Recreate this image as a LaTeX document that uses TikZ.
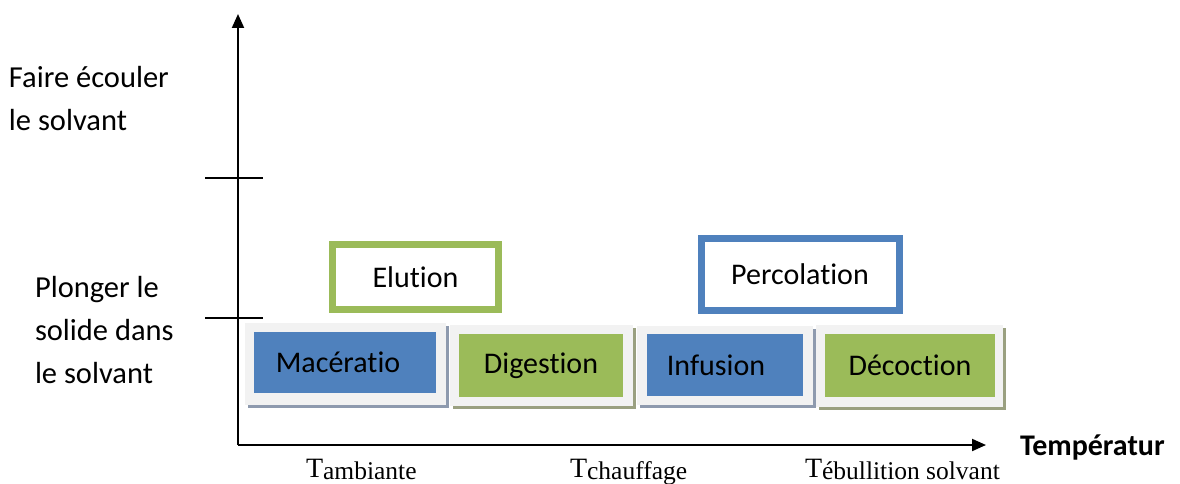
\documentclass[tikz,border=0pt]{standalone}
\usepackage{fontspec}
\setmainfont{Carlito}[Ligatures=NoCommon]
\newfontfamily\timesfont{Liberation Serif}
\usetikzlibrary{arrows.meta,shadows}
\definecolor{boxblue}{HTML}{4F81BD}
\definecolor{boxgreen}{HTML}{9BBB59}
\definecolor{panelgray}{HTML}{F2F2F2}
\definecolor{shadeblue}{HTML}{8E9AAE}
\definecolor{shadegreen}{HTML}{9AA080}

\begin{document}
\begin{tikzpicture}[
    x=1pt, y=-1pt,
    every node/.style={inner sep=0pt, outer sep=0pt},
    panel/.style={rectangle, fill=panelgray, drop shadow={shadow xshift=2.5pt, shadow yshift=-3pt, opacity=1, fill=#1}},
    method/.style={rectangle, fill=#1, font=\fontsize{30}{36}\selectfont},
    framebox/.style={rectangle, draw=#1, line width=7pt, fill=white, font=\fontsize{30}{36}\selectfont},
    sidetext/.style={align=left, anchor=base west, font=\fontsize{30.5}{43}\selectfont},
    temptext/.style={anchor=base west, font=\timesfont\fontsize{28}{30}\selectfont},
    tickmark/.style={line width=2pt},
    axisline/.style={line width=2pt, -{Triangle[length=14pt, width=12pt]}}
]
\useasboundingbox (0, 0) rectangle (1180, 484);

% Axes
\coordinate (origin) at (238, 445);
\coordinate (ytip) at (238, 14);
\coordinate (xtip) at (986, 445);
\draw[axisline] (origin) -- (ytip);
\draw[axisline] (origin) -- (xtip);

% Ticks on the vertical axis
\coordinate (t1l) at (205, 178);
\coordinate (t1r) at (263, 178);
\coordinate (t2l) at (205, 318);
\coordinate (t2r) at (263, 318);
\draw[tickmark] (t1l) -- (t1r);
\draw[tickmark] (t2l) -- (t2r);

% Side labels (base = last line)
\node[sidetext] at (9, 131) (ecouler) {Faire écouler\\le solvant};
\node[sidetext] at (35, 383) (plonger) {Plonger le\\solide dans\\le solvant};

% Panels
\node[panel=shadeblue, minimum width=201pt, minimum height=82pt] at (345.5, 364) (p1) {};
\node[panel=shadegreen, minimum width=183pt, minimum height=81pt] at (541.5, 365.5) (p2) {};
\node[panel=shadeblue, minimum width=176pt, minimum height=79pt] at (725, 365.5) (p3) {};
\node[panel=shadegreen, minimum width=187pt, minimum height=82pt] at (909.5, 366) (p4) {};

% Methods
\node[method=boxblue, minimum width=182pt, minimum height=61pt] at (345, 362.5) (maceration) {\hspace*{-14pt}Macératio};
\node[method=boxgreen, minimum width=164pt, minimum height=63pt] at (541, 365.5) (digestion) {Digestion};
\node[method=boxblue, minimum width=156pt, minimum height=62pt] at (725, 365) (infusion) {\hspace*{-18pt}Infusion};
\node[method=boxgreen, minimum width=170pt, minimum height=63pt] at (910, 365.5) (decoction) {Décoction};

% Outlined boxes
\node[framebox=boxgreen, minimum width=166pt, minimum height=65pt] at (415.5, 277) (elution) {Elution};
\node[framebox=boxblue, minimum width=198pt, minimum height=72pt] at (800, 274) (percolation) {Percolation};

% Temperatures
\node[temptext] at (306, 477) (tamb) {T\raisebox{-2pt}{\fontsize{25.5}{28}\selectfont ambiante}};
\node[temptext] at (570, 477) (tchauf) {T\raisebox{-2pt}{\fontsize{25.5}{28}\selectfont chauffage}};
\node[temptext] at (805, 477) (tebul) {T\raisebox{-2pt}{\fontsize{25.5}{28}\selectfont ébullition solvant}};
\node[anchor=base west, font=\bfseries\fontsize{30}{32}\selectfont] at (1020, 455) (temp) {Températur};

\end{tikzpicture}
\end{document}
